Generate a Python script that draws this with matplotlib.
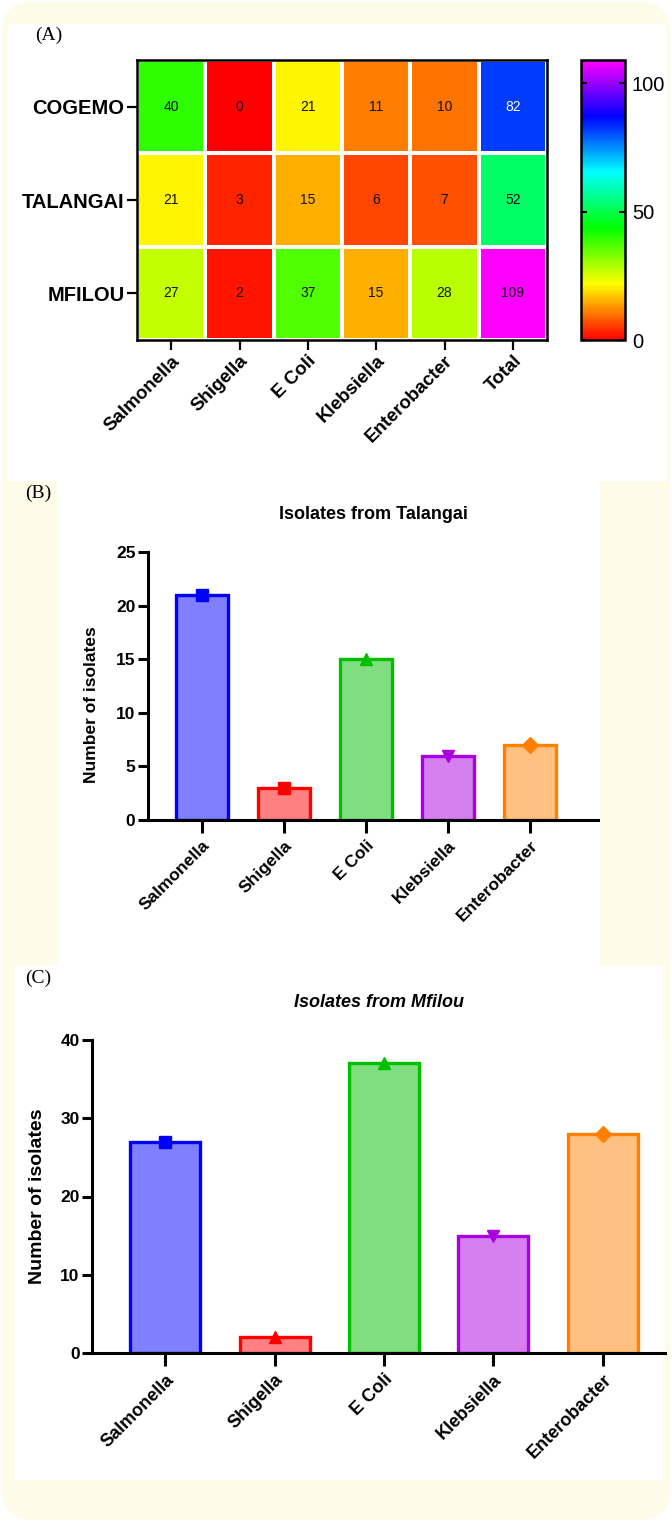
import numpy as np
import matplotlib.pyplot as plt
from matplotlib.colors import LinearSegmentedColormap
from matplotlib.patches import FancyBboxPatch, Rectangle

plt.rcParams['font.family'] = ['Liberation Sans', 'DejaVu Sans']

# data
sites = ['COGEMO', 'TALANGAI', 'MFILOU']
heat_cols = ['Salmonella', 'Shigella', 'E Coli', 'Klebsiella', 'Enterobacter', 'Total']
cogemo = [40, 0, 21, 11, 10, 82]
talangai = [21, 3, 15, 6, 7, 52]
mfilou = [27, 2, 37, 15, 28, 109]

bacteria = ['Salmonella', 'Shigella', 'E Coli', 'Klebsiella', 'Enterobacter']
talangai_counts = [21, 3, 15, 6, 7]
mfilou_counts = [27, 2, 37, 15, 28]

edge_colors = ['#0000ff', '#ff0000', '#00c000', '#aa00e0', '#ff8000']
fill_colors = ['#8080ff', '#ff8080', '#80de80', '#d680f0', '#ffc080']
markers_b = ['s', 's', '^', 'v', 'D']
markers_c = ['s', '^', '^', 'v', 'D']

W, H = 672, 1522
fig = plt.figure(figsize=(W / 100, H / 100), dpi=100)
fig.patch.set_facecolor('white')

cream = '#fffbe9'


def px(x0, y0, x1, y1):
    return [x0 / W, 1 - y1 / H, (x1 - x0) / W, (y1 - y0) / H]


# background card and white panels
fig.patches.append(FancyBboxPatch((2 / W, 2 / H), (W - 4) / W, (H - 4) / H,
                                  boxstyle='round,pad=0,rounding_size=0.045',
                                  transform=fig.transFigure, facecolor=cream,
                                  edgecolor='none', zorder=-3,
                                  mutation_aspect=W / H))
for (x0, y0, x1, y1) in [(8, 24, 667, 481), (58, 481, 600, 965), (15, 965, 663, 1480)]:
    fig.patches.append(Rectangle((x0 / W, 1 - y1 / H), (x1 - x0) / W, (y1 - y0) / H,
                                 transform=fig.transFigure, facecolor='white',
                                 edgecolor='none', zorder=-2))

serif = ['Liberation Serif', 'DejaVu Serif']
fig.text(35 / W, 1 - 35 / H, '(A)', family=serif, fontsize=14, va='center')
fig.text(25 / W, 1 - 493 / H, '(B)', family=serif, fontsize=14, va='center')
fig.text(25 / W, 1 - 978 / H, '(C)', family=serif, fontsize=14, va='center')

# (A) heatmap
cmap = LinearSegmentedColormap.from_list('hue300', ['#ff0000', '#ffff00', '#00ff00',
                                                    '#00ffff', '#0000ff', '#ff00ff'])
vals = np.array([cogemo, talangai, mfilou])
vmax = vals.max()
ax = fig.add_axes(px(137, 60, 547, 340))
mesh = ax.pcolormesh(vals, cmap=cmap, vmin=0, vmax=vmax, edgecolors='white', linewidth=1.5)
ax.set_xlim(0, len(heat_cols))
ax.set_ylim(len(sites), 0)
for i in range(vals.shape[0]):
    for j in range(vals.shape[1]):
        v = vals[i, j]
        ax.text(j + 0.5, i + 0.5, str(v), ha='center', va='center', fontsize=10,
                color='white' if 70 < v < 100 else '#111111')
ax.set_xticks(np.arange(len(heat_cols)) + 0.5)
ax.set_xticklabels(heat_cols, rotation=45, ha='right', rotation_mode='anchor',
                   fontsize=13.5, fontweight='bold')
ax.set_yticks(np.arange(len(sites)) + 0.5)
ax.set_yticklabels(sites, fontsize=14.5, fontweight='bold')
ax.tick_params(length=7, width=1.6, pad=2)
for s in ax.spines.values():
    s.set_linewidth(1.8)

cax = fig.add_axes(px(581, 60, 625, 340))
cb = fig.colorbar(mesh, cax=cax, ticks=[0, 50, 100])
cb.outline.set_linewidth(1.8)
cax.tick_params(length=4, width=1.5, direction='in', left=True, right=True,
                labelsize=14.5, pad=5)


def bar_panel(rect, counts, markers, ymax, ystep, xlim, width, title, italic):
    ax = fig.add_axes(px(*rect))
    x = np.arange(len(bacteria))
    for i in range(len(bacteria)):
        ax.bar(x[i], counts[i], width=width, color=fill_colors[i],
               edgecolor=edge_colors[i], linewidth=2.4, zorder=2)
        ax.plot(x[i], counts[i], marker=markers[i], color=edge_colors[i],
                markersize=8, zorder=3, clip_on=False)
    ax.set_xlim(*xlim)
    ax.set_ylim(0, ymax)
    ax.set_yticks(np.arange(0, ymax + 1, ystep))
    ax.set_xticks(x)
    ax.set_xticklabels(bacteria, rotation=45, ha='right', rotation_mode='anchor',
                       fontsize=12.5, fontweight='bold')
    ax.set_ylabel('Number of isolates', fontsize=12.5, fontweight='bold')
    for lab in ax.get_yticklabels():
        lab.set_fontweight('bold')
        lab.set_fontsize(12.5)
    ax.spines['top'].set_visible(False)
    ax.spines['right'].set_visible(False)
    ax.spines['left'].set_linewidth(2.2)
    ax.spines['bottom'].set_linewidth(2.2)
    ax.tick_params(axis='y', length=7, width=2.2, pad=2)
    ax.tick_params(axis='x', length=9, width=2.2, pad=4)
    ax.set_title(title, fontsize=13, fontweight='bold',
                 fontstyle='italic' if italic else 'normal', pad=24)
    return ax


axb = bar_panel((148, 552, 598, 820), talangai_counts, markers_b, 25, 5,
                (-0.66, 4.83), 0.63, 'Isolates from Talangai', False)
axb.yaxis.set_label_coords(-0.11, 0.43)

axc = bar_panel((92, 1040, 665, 1353), mfilou_counts, markers_c, 40, 10,
                (-0.67, 4.57), 0.64, 'Isolates from Mfilou', True)
axc.yaxis.labelpad = 10
axc.yaxis.label.set_fontsize(14)
for lab in axc.get_xticklabels():
    lab.set_fontsize(13)

fig.savefig('out.png', dpi=100)
